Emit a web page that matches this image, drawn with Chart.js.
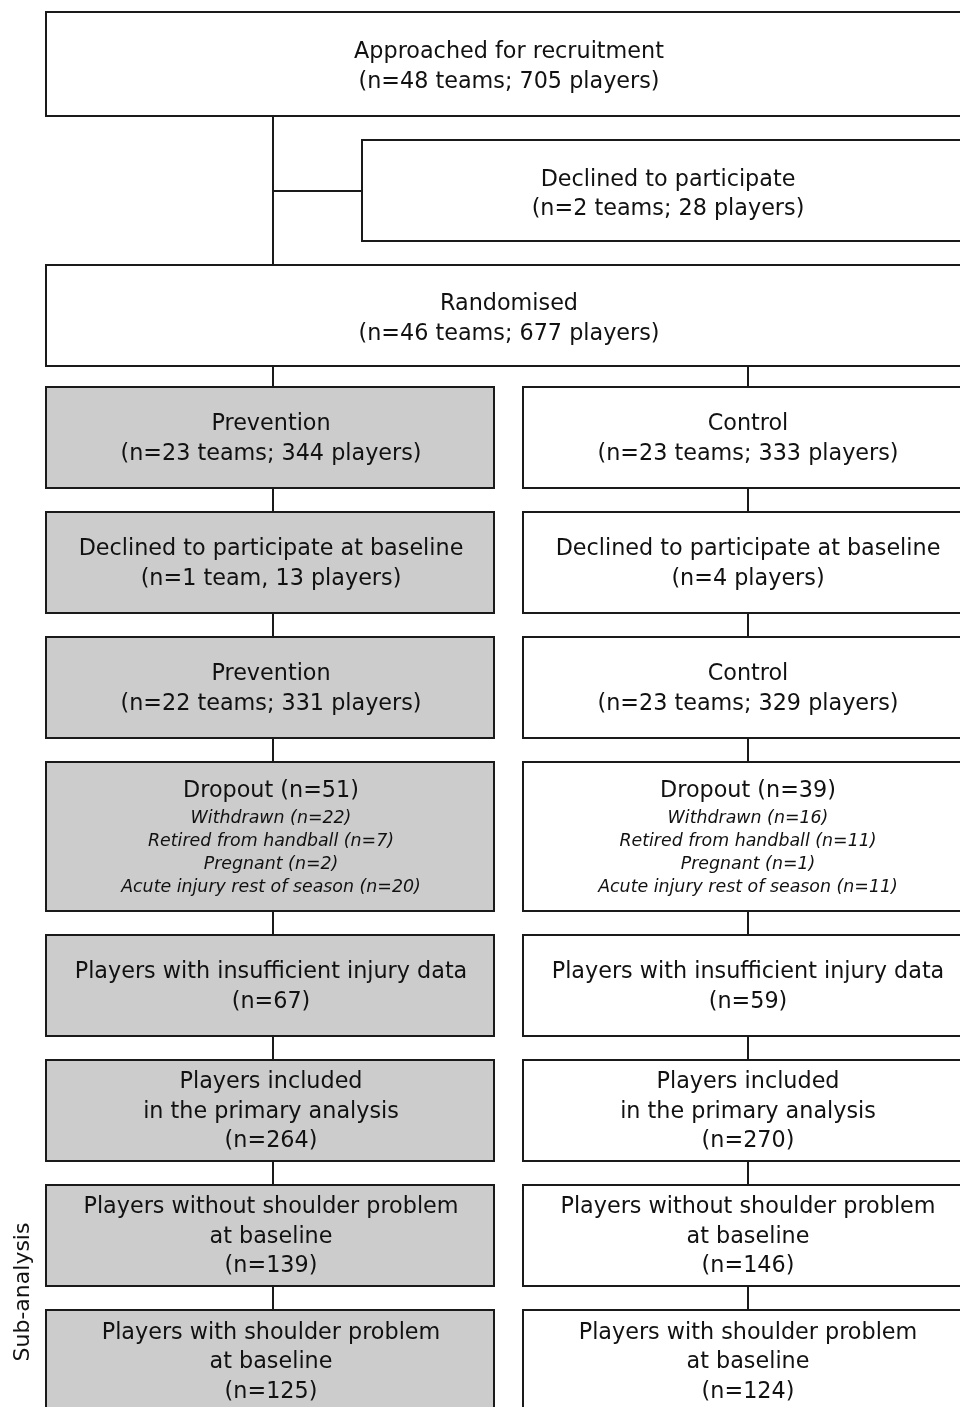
<!DOCTYPE html>
<html><head><meta charset="utf-8">
<script src="https://cdn.jsdelivr.net/npm/chart.js@4"></script>
<style>html,body{margin:0;padding:0;background:#fff}#wrap{width:960px;height:1407px}</style>
</head><body><div id="wrap"><canvas id="c" width="960" height="1407"></canvas></div>
<script>
// ---- content (text) ----
const topTexts = [
  ["Approached for recruitment", "(n=48 teams; 705 players)"],
  ["Declined to participate", "(n=2 teams; 28 players)"],
  ["Randomised", "(n=46 teams; 677 players)"]
];
const preventionTexts = [
  ["Prevention", "(n=23 teams; 344 players)"],
  ["Declined to participate at baseline", "(n=1 team, 13 players)"],
  ["Prevention", "(n=22 teams; 331 players)"],
  ["Dropout (n=51)"],
  ["Players with insufficient injury data", "(n=67)"],
  ["Players included", "in the primary analysis", "(n=264)"],
  ["Players without shoulder problem", "at baseline", "(n=139)"],
  ["Players with shoulder problem", "at baseline", "(n=125)"]
];
const controlTexts = [
  ["Control", "(n=23 teams; 333 players)"],
  ["Declined to participate at baseline", "(n=4 players)"],
  ["Control", "(n=23 teams; 329 players)"],
  ["Dropout (n=39)"],
  ["Players with insufficient injury data", "(n=59)"],
  ["Players included", "in the primary analysis", "(n=270)"],
  ["Players without shoulder problem", "at baseline", "(n=146)"],
  ["Players with shoulder problem", "at baseline", "(n=124)"]
];
const dropoutPrevention = ["Withdrawn (n=22)", "Retired from handball (n=7)", "Pregnant (n=2)", "Acute injury rest of season (n=20)"];
const dropoutControl = ["Withdrawn (n=16)", "Retired from handball (n=11)", "Pregnant (n=1)", "Acute injury rest of season (n=11)"];
const sideLabel = "Sub-analysis";

// ---- layout (diagram coordinates) ----
const topBoxes = [ {x0:46,x1:972,y0:12,y1:116}, {x0:362,x1:974,y0:140,y1:241}, {x0:46,x1:972,y0:265,y1:366} ];
const rowY = [[387,488],[512,613],[637,738],[762,911],[935,1036],[1060,1161],[1185,1286],[1310,1430]];
const leftCol = {x0:46,x1:494,cx:273};
const rightCol = {x0:523,x1:973,cx:748};
const LINE_H = 29.5, SMALL_H = 23, TEXT_DY = 1.5;

// connector segments as line datasets (diagram coordinates)
const connectors = [
  [[273,116],[273,265]],
  [[273,191],[362,191]],
  [[273,366],[273,387]],
  [[748,366],[748,387]]
];
for (let i=0;i<rowY.length-1;i++){
  connectors.push([[273,rowY[i][1]],[273,rowY[i+1][0]]]);
  connectors.push([[748,rowY[i][1]],[748,rowY[i+1][0]]]);
}

const STROKE = '#1a1a1a';
const FONT = '"DejaVu Sans", Verdana, sans-serif';

const datasets = connectors.map(seg => ({
  type:'line',
  data: seg.map(p=>({x:p[0],y:p[1]})),
  borderColor: STROKE, borderWidth: 2, pointRadius: 0, showLine: true, fill:false
}));

const boxPlugin = {
  id:'boxes',
  afterDatasetsDraw(chart){
    const ctx = chart.ctx, xs = chart.scales.x, ys = chart.scales.y;
    const X = v=>xs.getPixelForValue(v), Y = v=>ys.getPixelForValue(v);
    function box(b, fill){
      const x0=X(b.x0), x1=X(b.x1), y0=Y(b.y0), y1=Y(b.y1);
      ctx.save();
      ctx.fillStyle = fill; ctx.fillRect(x0,y0,x1-x0,y1-y0);
      ctx.strokeStyle = STROKE; ctx.lineWidth = 2;
      ctx.strokeRect(x0,y0,x1-x0,y1-y0);
      ctx.restore();
    }
    function lines(arr, cx, cy, font, lh){
      ctx.save();
      ctx.fillStyle = '#111'; ctx.font = font; ctx.textAlign='center'; ctx.textBaseline='middle';
      arr.forEach((t,i)=>ctx.fillText(t, X(cx), Y(cy + TEXT_DY)+ (i-(arr.length-1)/2)*lh));
      ctx.restore();
    }
    const F = '22.3px '+FONT, FI = 'italic 17.4px '+FONT;
    topBoxes.forEach((b,i)=>{ box(b,'#ffffff'); });
    lines(topTexts[0], 509, 65.5, F, LINE_H);
    lines(topTexts[1], 668, 193, F, LINE_H);
    lines(topTexts[2], 509, 317.5, F, LINE_H);
    rowY.forEach((r,i)=>{
      box({x0:leftCol.x0,x1:leftCol.x1,y0:r[0],y1:r[1]}, '#cccccc');
      box({x0:rightCol.x0,x1:rightCol.x1,y0:r[0],y1:r[1]}, '#ffffff');
      if (i===3){
        lines(preventionTexts[i], 271, 790, F, LINE_H);
        lines(controlTexts[i], 748, 790, F, LINE_H);
        lines(dropoutPrevention, 271, 851.5, FI, SMALL_H);
        lines(dropoutControl, 748, 851.5, FI, SMALL_H);
      } else {
        const cy = (i===7) ? 1361 : (r[0]+r[1])/2;
        lines(preventionTexts[i], 271, cy, F, LINE_H);
        lines(controlTexts[i], 748, cy, F, LINE_H);
      }
    });
    // side label
    ctx.save();
    ctx.translate(X(23), Y(1292));
    ctx.rotate(-Math.PI/2);
    ctx.fillStyle='#111'; ctx.font = '22px '+FONT; ctx.textAlign='center'; ctx.textBaseline='middle';
    ctx.fillText(sideLabel, 0, 0);
    ctx.restore();
  }
};

new Chart(document.getElementById('c'), {
  type:'scatter',
  data:{ datasets },
  options:{
    responsive:false, animation:false,
    layout:{padding:0},
    plugins:{legend:{display:false}, tooltip:{enabled:false}},
    scales:{
      x:{type:'linear', min:0, max:960, display:false},
      y:{type:'linear', min:0, max:1407, reverse:true, display:false}
    }
  },
  plugins:[boxPlugin]
});
</script></body></html>
